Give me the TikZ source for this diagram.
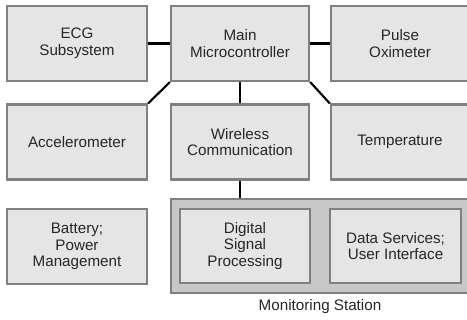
\documentclass[tikz,border=0pt]{standalone}
\usepackage{fontspec}
\setmainfont{Liberation Sans}
\begin{document}
\begin{tikzpicture}[x=0.75pt,y=-0.75pt,
  blk/.style={draw=black!50,fill=black!10,line width=1.8pt,inner sep=0pt,
    align=center,text=black!85,font=\fontsize{11.4}{12.6}\selectfont,minimum height=56pt},
  outerbox/.style={draw=black!50,fill=black!22,line width=1.8pt,inner sep=0pt},
  wire/.style={draw=black,line width=1.6pt}]
\useasboundingbox (0,0) rectangle (467,320);
\clip (0,0) rectangle (467,320);
\node[blk,minimum width=105pt] (ecg) at (77,43.5) {ECG\\Subsystem};
\node[blk,minimum width=103.5pt] (main) at (240,43.5) {Main\\Microcontroller};
\node[blk,minimum width=103.5pt] (pulse) at (400,43.5) {Pulse\\Oximeter};
\node[blk,minimum width=105pt] (acc) at (77,142) {Accelerometer};
\node[blk,minimum width=103.5pt] (wire) at (240,142) {Wireless\\Communication};
\node[blk,minimum width=103.5pt] (temp) at (400,142) {Temperature};
\node[blk,minimum width=105pt] (batt) at (77,246.5) {Battery;\\Power\\Management};
\node[outerbox,minimum width=224pt,minimum height=70.5pt] (mon) at (320.5,246) {};
\node[blk,minimum width=97.5pt,minimum height=55.5pt] (dsp) at (245,246) {Digital\\Signal\\Processing};
\node[blk,minimum width=98.25pt,minimum height=55.5pt] (data) at (395.5,246) {Data Services;\\User Interface};
\node[text=black!85,font=\fontsize{11.4}{12.6}\selectfont] (lbl) at (320,307) {Monitoring Station};
\draw[wire] (ecg.east) -- (main.west);
\draw[wire] (main.east) -- (pulse.west);
\draw[wire] (main.south west) -- (acc.north east);
\draw[wire] (main.south east) -- (temp.north west);
\draw[wire] (main.south) -- (wire.north);
\draw[wire] (wire.south) -- (wire.south |- mon.north);
\end{tikzpicture}
\end{document}
